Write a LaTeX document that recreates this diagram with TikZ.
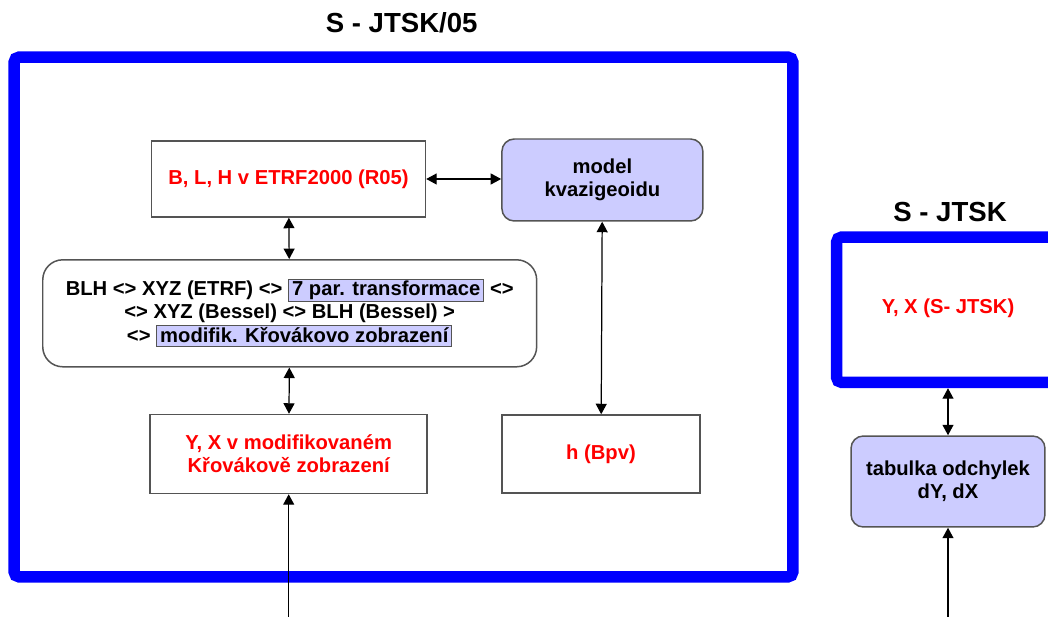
\documentclass[tikz,border=0pt]{standalone}
\usepackage{fontspec}
\setmainfont{Liberation Sans}
\usetikzlibrary{arrows.meta}
\definecolor{ramecblue}{rgb}{0,0,1}
\definecolor{levandule}{rgb}{0.80,0.80,1}
\definecolor{okraj}{rgb}{0.33,0.33,0.33}
\newcommand{\popis}{\fontsize{11.5}{13.2}\selectfont\bfseries}
\newcommand{\nadpis}{\fontsize{15.7}{18}\selectfont\bfseries}
\newcommand{\zvyr}[1]{{\setlength{\fboxsep}{0.5pt}\setlength{\fboxrule}{0.6pt}%
  \fcolorbox{okraj}{levandule}{\hspace{1.2pt}\rule[-2pt]{0pt}{8.6pt}#1\hspace{1.2pt}}}}
\tikzset{
  ramec/.style={
    draw=ramecblue,
    line width=0.23cm,
    rounded corners=3pt,
    inner sep=0pt
  },
  titulek/.style={
    font=\nadpis,
    inner sep=0pt
  },
  bily/.style={
    draw=okraj,
    line width=0.85pt,
    fill=white,
    align=center,
    inner sep=2pt,
    text=red,
    font=\popis
  },
  modry/.style={
    draw=okraj,
    line width=0.85pt,
    fill=levandule,
    rounded corners=7pt,
    align=center,
    inner sep=2pt,
    font=\popis
  },
  postup/.style={
    draw=okraj,
    line width=0.85pt,
    fill=white,
    rounded corners=0.4cm,
    align=center,
    inner sep=2pt,
    font=\popis
  },
  sipka/.style={
    {Triangle[length=2.1mm,width=2.2mm]}-{Triangle[length=2.1mm,width=2.2mm]},
    line width=0.7pt
  },
  sipkaup/.style={
    -{Triangle[length=2.1mm,width=2.2mm]},
    line width=0.7pt
  }
}
\begin{document}
\begin{tikzpicture}[x=0.02cm, y=-0.02cm]
\useasboundingbox (0,0) rectangle (1048,617);
\clip (0,0) rectangle (1048,617);
% ramce
\node[ramec, minimum width=15.58cm, minimum height=10.4cm] (r05) at (403.5,317) {};
\node[titulek] (t05) at (401.7,23) {S - JTSK/05};
\node[ramec, minimum width=4.67cm, minimum height=2.91cm] (rjtsk) at (953.25,309.75) {};
\node[titulek] (tjtsk) at (950,212) {S - JTSK};
% S-JTSK/05
\node[bily, minimum width=5.48cm, minimum height=1.52cm] (blh) at (288.5,179) {B, L, H v ETRF2000 (R05)};
\node[modry, minimum width=4.02cm, minimum height=1.64cm] (model) at (602.4,180) {model\\kvazigeoidu};
\node[postup, minimum width=9.88cm, minimum height=2.14cm] (prevod) at (289.7,313.3)
  {BLH <> XYZ (ETRF) <> \zvyr{7 par. transformace} <>\\
   <> XYZ (Bessel) <> BLH (Bessel) >\\
   <> \zvyr{modifik. Křovákovo zobrazení}};
\node[bily, minimum width=5.54cm, minimum height=1.58cm] (yx) at (288.7,454) {Y, X v modifikovaném\\Křovákově zobrazení};
\node[bily, minimum width=3.96cm, minimum height=1.56cm] (h) at (601,454) {h (Bpv)};
% S-JTSK
\node[font=\popis, text=red] (yxjtsk) at (948,308) {Y, X (S- JTSK)};
\node[modry, minimum width=3.88cm, minimum height=1.82cm] (tab) at (948,481.5) {tabulka odchylek\\dY, dX};
% sipky
\draw[sipka] (blh.east) -- (model.west |- blh.east);
\draw[sipka] (blh) -- (prevod);
\draw[sipka] (prevod) -- (yx);
\draw[sipka] (model) -- (h);
\draw[sipka] (rjtsk.south -| tab.north) -- (tab.north);
\coordinate (vstup1) at (288.7,625);
\coordinate (vstup2) at (948,625);
\draw[sipkaup] (vstup1) -- (yx.south);
\draw[sipkaup] (vstup2) -- (tab.south);
\end{tikzpicture}
\end{document}
